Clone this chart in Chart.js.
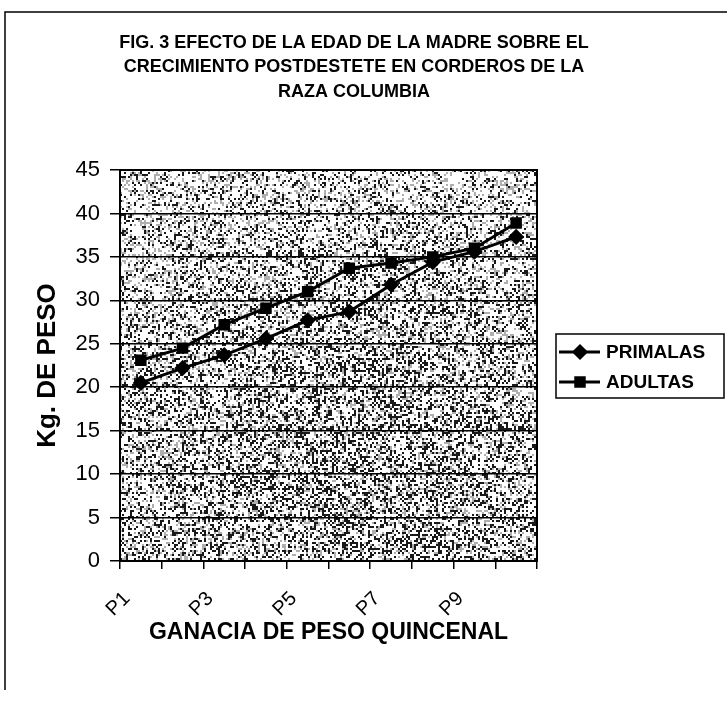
<!DOCTYPE html>
<html>
<head>
<meta charset="utf-8">
<script src="https://cdn.jsdelivr.net/npm/chart.js@4.4.1/dist/chart.umd.min.js"></script>
<style>
html, body { margin: 0; padding: 0; background: #fff; }
canvas { display: block; }
</style>
</head>
<body>
<canvas id="chart" width="727" height="702"></canvas>
<script>
// datos
const periodos = ["P1", "P2", "P3", "P4", "P5", "P6", "P7", "P8", "P9", "P10"];
const primalas = [20.5, 22.2, 23.7, 25.6, 27.7, 28.7, 31.8, 34.4, 35.6, 37.3];
const adultas = [23.1, 24.5, 27.2, 29.1, 31.0, 33.7, 34.3, 35.0, 36.0, 38.9];
const titulo = [
    "FIG. 3 EFECTO DE LA EDAD DE LA MADRE SOBRE EL",
    "CRECIMIENTO POSTDESTETE EN CORDEROS DE LA",
    "RAZA COLUMBIA"
];
const tituloY = "Kg. DE PESO";
const tituloX = "GANACIA DE PESO QUINCENAL";

const FONT = "'Liberation Sans', Arial, sans-serif";

// textura granulada del fondo (semilla fija)
let seed = 12345;
function rnd() {
    seed = (seed * 1103515245 + 12345) % 2147483648;
    return seed / 2147483648;
}

const fondoPlugin = {
    id: "fondo",
    beforeDraw(chart) {
        const { ctx, chartArea: a } = chart;
        const w = Math.round(a.right - a.left), h = Math.round(a.bottom - a.top);
        const img = ctx.createImageData(w, h);
        seed = 12345;
        const cx = w * 0.55, cy = h * 0.75;
        for (let y = 0; y < h; y += 2) {
            for (let x = 0; x < w; x += 2) {
                const d = Math.hypot((x - cx) / w, (y - cy) / h);
                const p = 0.36 - d * 0.25;
                const v = rnd() < p ? 25 : (rnd() < 0.22 ? 175 : 255);
                for (let dy = 0; dy < 2 && y + dy < h; dy++) {
                    for (let dx = 0; dx < 2 && x + dx < w; dx++) {
                        const i = ((y + dy) * w + x + dx) * 4;
                        img.data[i] = v; img.data[i + 1] = v; img.data[i + 2] = v; img.data[i + 3] = 255;
                    }
                }
            }
        }
        ctx.putImageData(img, Math.round(a.left), Math.round(a.top));
    },
    afterDraw(chart) {
        const { ctx, chartArea: a } = chart;
        ctx.save();
        // marco del area de trazado
        ctx.strokeStyle = "#000";
        ctx.lineWidth = 2;
        ctx.strokeRect(a.left, a.top, a.right - a.left, a.bottom - a.top);
        // marco exterior
        ctx.lineWidth = 1.5;
        ctx.beginPath();
        ctx.moveTo(5, 690);
        ctx.lineTo(5, 12);
        ctx.lineTo(727, 12);
        ctx.stroke();
        // titulo
        ctx.fillStyle = "#000";
        ctx.font = "bold 18px " + FONT;
        ctx.textAlign = "center";
        ctx.textBaseline = "middle";
        titulo.forEach((t, i) => ctx.fillText(t, 354, 43 + i * 24.5));
        // leyenda
        const lx = 556, ly = 334, lw = 168, lh = 64;
        ctx.lineWidth = 1.5;
        ctx.strokeRect(lx, ly, lw, lh);
        ctx.font = "bold 19px " + FONT;
        ctx.textAlign = "left";
        chart.data.datasets.forEach((ds, i) => {
            const y = ly + 18 + i * 30;
            ctx.lineWidth = 3;
            ctx.beginPath();
            ctx.moveTo(lx + 3, y);
            ctx.lineTo(lx + 44, y);
            ctx.stroke();
            Chart.helpers.drawPoint(ctx, {
                pointStyle: ds.pointStyle,
                radius: ds.pointRadius,
                borderWidth: 1
            }, lx + 24, y);
            ctx.fillStyle = "#000";
            ctx.fill();
            ctx.fillText(ds.label, lx + 50, y + 1);
        });
        ctx.restore();
    }
};

new Chart(document.getElementById("chart"), {
    type: "line",
    data: {
        labels: periodos,
        datasets: [
            {
                label: "PRIMALAS",
                data: primalas,
                borderColor: "#000",
                backgroundColor: "#000",
                borderWidth: 3,
                pointStyle: "rectRot",
                pointRadius: 6,
                fill: false
            },
            {
                label: "ADULTAS",
                data: adultas,
                borderColor: "#000",
                backgroundColor: "#000",
                borderWidth: 3,
                pointStyle: "rect",
                pointRadius: 6,
                fill: false
            }
        ]
    },
    options: {
        responsive: false,
        animation: false,
        layout: {
            padding: { left: 5, right: 190, top: 170, bottom: 40 }
        },
        plugins: {
            legend: { display: false },
            title: { display: false },
            tooltip: { enabled: false }
        },
        scales: {
            x: {
                offset: true,
                grid: {
                    offset: true,
                    drawOnChartArea: false,
                    color: "#000",
                    lineWidth: 1.5,
                    tickLength: 8
                },
                border: { display: true, color: "#000", width: 2 },
                ticks: {
                    color: "#000",
                    font: { family: FONT, size: 20 },
                    autoSkip: false,
                    minRotation: 45,
                    maxRotation: 45,
                    padding: 18,
                    labelOffset: -14,
                    callback: function (val, i) {
                        return i % 2 === 0 ? this.getLabelForValue(val) : "";
                    }
                },
                title: {
                    display: true,
                    text: tituloX,
                    color: "#000",
                    font: { family: FONT, size: 23, weight: "bold" },
                    padding: { top: 0, bottom: 16 }
                },
                afterFit: scale => { scale.height = 101; }
            },
            y: {
                min: 0,
                max: 45,
                grid: {
                    color: "#000",
                    lineWidth: 1.5,
                    tickLength: 10
                },
                border: { display: true, color: "#000", width: 2 },
                ticks: {
                    stepSize: 5,
                    color: "#000",
                    font: { family: FONT, size: 22 },
                    padding: 10
                },
                title: {
                    display: true,
                    text: tituloY,
                    color: "#000",
                    font: { family: FONT, size: 26, weight: "bold" },
                    padding: { top: 27, bottom: 0 }
                },
                afterFit: scale => { scale.width = 115; }
            }
        }
    },
    plugins: [fondoPlugin]
});
</script>
</body>
</html>
